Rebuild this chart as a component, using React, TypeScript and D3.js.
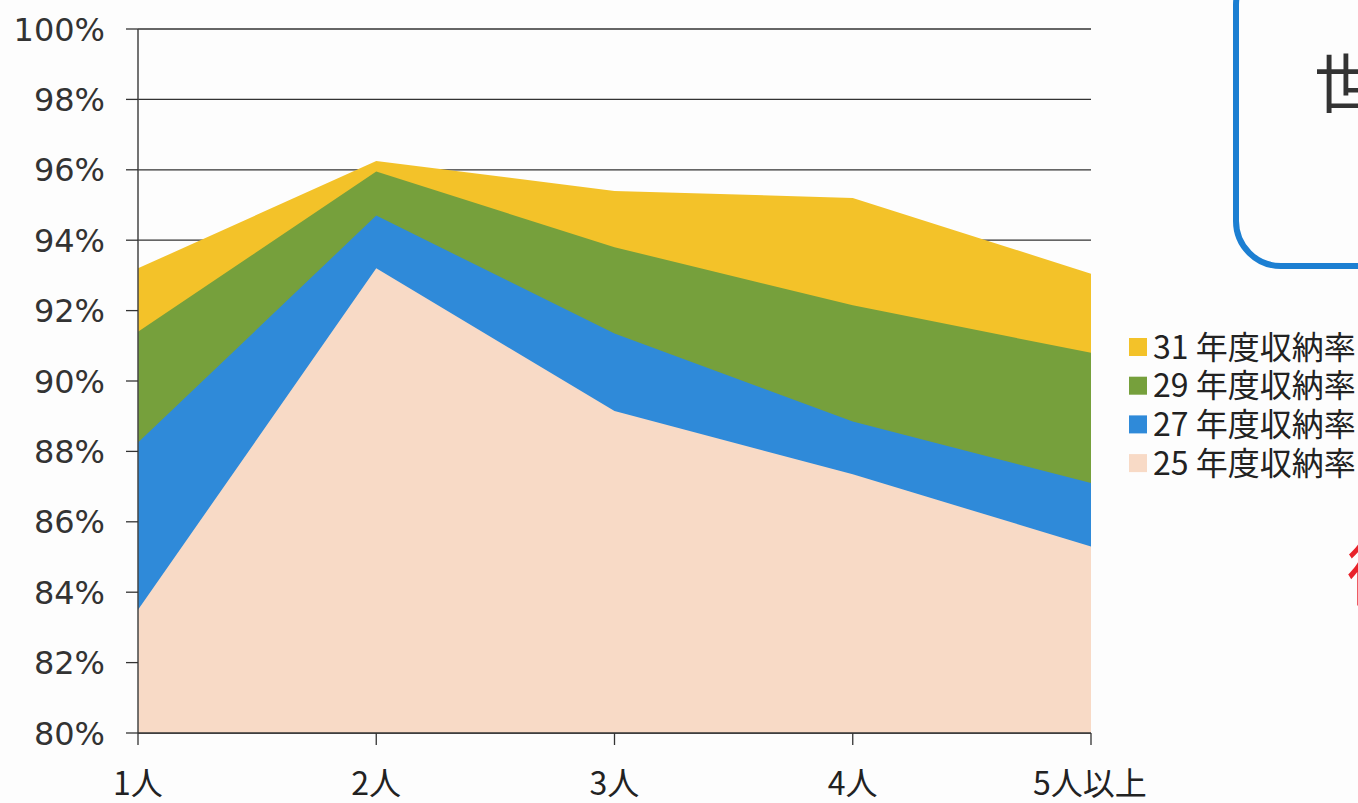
import React from "react";
import * as d3 from "d3";

const categories = ["1人", "2人", "3人", "4人", "5人以上"];
const seriesNames = ["31 年度収納率", "29 年度収納率", "27 年度収納率", "25 年度収納率"];
const s31 = [93.2, 96.25, 95.4, 95.2, 93.05];
const s29 = [91.4, 95.95, 93.8, 92.15, 90.8];
const s27 = [88.25, 94.7, 91.35, 88.85, 87.1];
const s25 = [83.5, 93.2, 89.15, 87.35, 85.3];
const seriesValues = [s31, s29, s27, s25];
const colors = ["#f3c229", "#76a03c", "#2f8ad9", "#f8dac6"];
const yTicks = [80, 82, 84, 86, 88, 90, 92, 94, 96, 98, 100];

const W = 1358;
const H = 803;
const left = 138;
const right = 1091;
const top = 29;
const bottom = 733;

export default function App() {
  const x = d3.scalePoint<string>().domain(categories).range([left, right]);
  const y = d3.scaleLinear().domain([80, 100]).range([bottom, top]);
  const area = d3
    .area<number>()
    .x((_, i) => x(categories[i]) as number)
    .y0(y(80))
    .y1((d) => y(d));

  const font = "'Noto Sans CJK JP', 'Noto Sans', sans-serif";

  return (
    <svg
      width={W}
      height={H}
      style={{ position: "absolute", left: 0, top: 0, background: "#fdfdfd" }}
      fontFamily={font}
    >
      <rect x={0} y={0} width={W} height={H} fill="#fdfdfd" />
      {/* gridlines */}
      {yTicks.map((t) => (
        <line key={"g" + t} x1={left} x2={right} y1={y(t)} y2={y(t)} stroke="#333" strokeWidth={1.3} />
      ))}
      {/* areas */}
      {seriesValues.map((vals, i) => (
        <path key={"a" + i} d={area(vals) || ""} fill={colors[i]} />
      ))}
      {/* y axis */}
      <line x1={left} x2={left} y1={top} y2={bottom} stroke="#444" strokeWidth={1.5} />
      {yTicks.map((t) => (
        <g key={"yt" + t}>
          <line x1={left - 12} x2={left} y1={y(t)} y2={y(t)} stroke="#333" strokeWidth={1.3} />
          <text x={105} y={y(t)} dy="0.36em" textAnchor="end" fontSize={32} fill="#333" fontFamily="'DejaVu Sans', sans-serif">
            {t}%
          </text>
        </g>
      ))}
      {/* x axis */}
      <line x1={left} x2={right} y1={bottom} y2={bottom} stroke="#333" strokeWidth={1.5} />
      {categories.map((c) => (
        <g key={"xt" + c}>
          <line x1={x(c) as number} x2={x(c) as number} y1={bottom} y2={bottom + 12} stroke="#333" strokeWidth={1.3} />
          <text
            x={x(c) as number}
            y={bottom + 62}
            textAnchor={c === "5人以上" ? "start" : "middle"}
            dx={c === "5人以上" ? -58 : 0}
            fontSize={32}
            fill="#222"
          >
            {c}
          </text>
        </g>
      ))}
      {/* legend */}
      {seriesNames.map((n, i) => (
        <g key={"l" + i} transform={`translate(1129, ${347 + i * 38.7})`}>
          <rect x={0} y={-9} width={18} height={18} fill={colors[i]} />
          <text x={24} y={0} dy="0.36em" fontSize={32} fill="#222">
            {n}
          </text>
        </g>
      ))}
      {/* blue box at top right */}
      <rect x={1236} y={-40} width={200} height={306} rx={45} ry={45} fill="none" stroke="#1c7fd2" strokeWidth={6} />
      <text x={1314} y={107} fontSize={64} fill="#333">世</text>
      <text x={1347} y={600} fontSize={70} fill="#e8222a">徴</text>
    </svg>
  );
}
